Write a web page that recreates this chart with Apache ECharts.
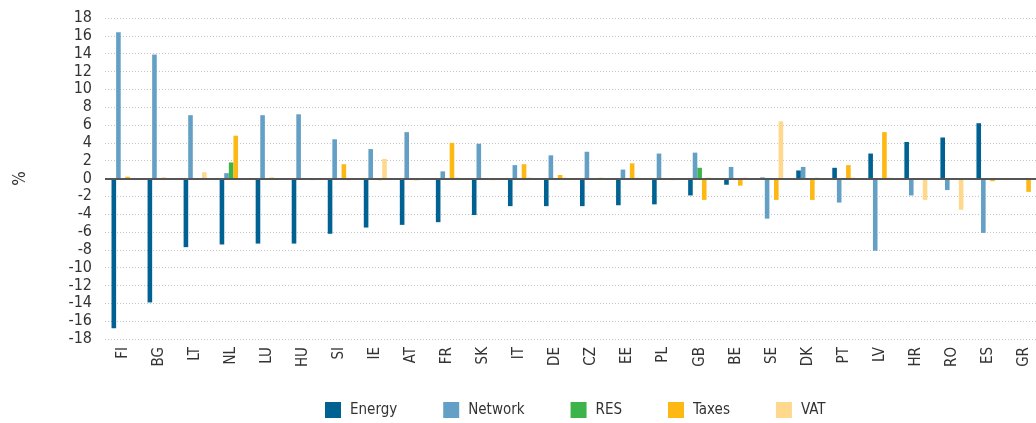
<!DOCTYPE html>
<html>
<head>
<meta charset="utf-8">
<script src="https://cdn.jsdelivr.net/npm/echarts@6/dist/echarts.min.js"></script>
<style>
  html, body { margin: 0; padding: 0; background: #fff; }
  #chart { width: 1036px; height: 423px; }
</style>
</head>
<body>
<div id="chart"></div>
<script>
// 各国电价构成变化 (%)
var countries = ['FI', 'BG', 'LT', 'NL', 'LU', 'HU', 'SI', 'IE', 'AT', 'FR', 'SK', 'IT', 'DE',
  'CZ', 'EE', 'PL', 'GB', 'BE', 'SE', 'DK', 'PT', 'LV', 'HR', 'RO', 'ES', 'GR']

var components = {
  Energy: [-16.8, -13.9, -7.7, -7.4, -7.3, -7.3, -6.2, -5.5, -5.2, -4.9, -4.1, -3.1, -3.1,
    -3.1, -3.0, -2.9, -1.9, -0.7, 0.1, 0.9, 1.2, 2.8, 4.1, 4.6, 6.2, 0],
  Network: [16.4, 13.9, 7.1, 0.6, 7.1, 7.2, 4.4, 3.3, 5.2, 0.8, 3.9, 1.5, 2.6,
    3.0, 1.0, 2.8, 2.9, 1.3, -4.5, 1.3, -2.7, -8.1, -1.9, -1.3, -6.1, 0],
  RES: [0, 0, 0, 1.8, 0, 0, 0, 0, 0, 0, 0, 0, 0,
    0, 0, 0, 1.2, 0, 0, 0, 0, 0, 0, 0, 0, 0],
  Taxes: [0.2, 0.1, 0, 4.8, 0.1, 0, 1.6, -0.2, -0.2, 4.0, 0, 1.6, 0.4,
    0, 1.7, 0, -2.4, -0.8, -2.4, -2.4, 1.5, 5.2, 0, 0, -0.3, -1.5],
  VAT: [0, 0, 0.7, 0, 0, -0.2, -0.2, 2.2, -0.1, 0.1, -0.2, 0.1, 0.1,
    0.1, 0.1, -0.2, 0.1, 0.1, 6.4, 0.1, 0.1, 0.1, -2.4, -3.5, 0, 0]
}

var colors = {
  Energy: '#006293',
  Network: '#64a0c6',
  RES: '#3cb44a',
  Taxes: '#fdb813',
  VAT: '#fed88c'
}

var font = "'Liberation Sans Narrow', 'Arial Narrow', 'DejaVu Sans Condensed', sans-serif"

var chart = echarts.init(document.getElementById('chart'))

var series = Object.keys(components).map(function (name, idx) {
  var s = {
    name: name,
    type: 'bar',
    data: components[name],
    barWidth: 4.6,
    barGap: '0%',
    itemStyle: { color: colors[name] }
  }
  if (idx === 0) {
    s.markLine = {
      silent: true,
      symbol: 'none',
      label: { show: false },
      lineStyle: { color: '#555', width: 2, type: 'solid' },
      data: [{ yAxis: 0 }]
    }
  }
  return s
})

var option = {
  animation: false,
  textStyle: { fontFamily: font },
  grid: {
    left: 105,
    right: -6,
    top: 18,
    bottom: 84,
    outerBoundsMode: 'none'
  },
  legend: {
    left: 325,
    top: 402,
    padding: 0,
    icon: 'rect',
    itemWidth: 16,
    itemHeight: 16,
    itemGap: 46,
    textStyle: {
      fontFamily: font,
      fontSize: 15,
      color: '#333',
      padding: [0, 0, 0, 4]
    },
    data: Object.keys(components)
  },
  xAxis: {
    type: 'category',
    data: countries,
    axisLine: { show: false, onZero: false },
    axisTick: { show: false },
    axisLabel: {
      rotate: 90,
      margin: 8,
      fontFamily: font,
      fontSize: 15,
      color: '#333'
    }
  },
  yAxis: {
    type: 'value',
    min: -18,
    max: 18,
    interval: 2,
    name: '%',
    nameLocation: 'middle',
    nameGap: 76,
    nameTextStyle: { fontFamily: font, fontSize: 17, color: '#333' },
    axisLabel: {
      margin: 13,
      fontFamily: font,
      fontSize: 16,
      color: '#333'
    },
    axisLine: { show: false },
    axisTick: { show: false },
    splitLine: {
      lineStyle: { color: '#c4c4c4', type: [1, 2], width: 1 }
    }
  },
  series: series
}

chart.setOption(option, true)
</script>
</body>
</html>
